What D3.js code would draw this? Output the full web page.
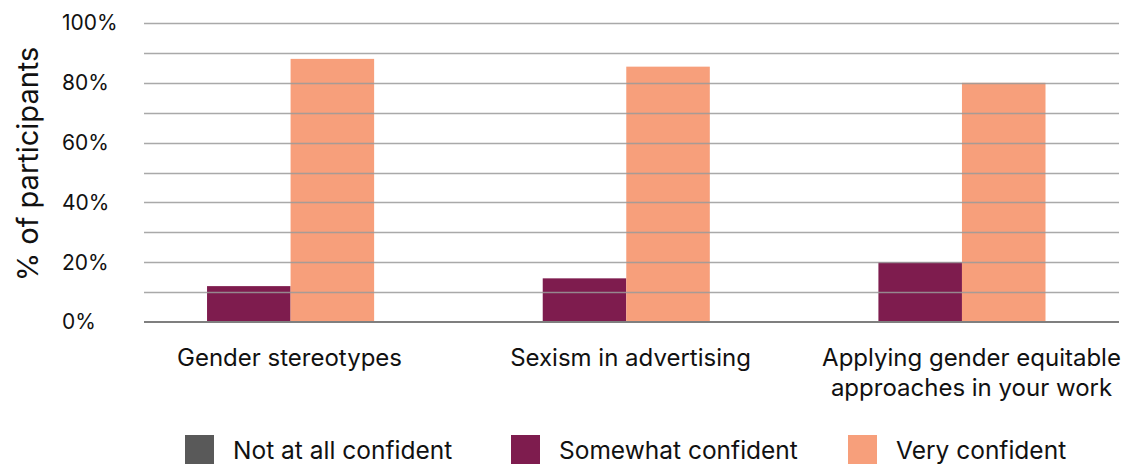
<!DOCTYPE html>
<html>
<head>
<meta charset="utf-8">
<script src="https://cdn.jsdelivr.net/npm/d3@7"></script>
<style>
  html, body { margin: 0; padding: 0; background: #fff; }
  svg { display: block; font-family: Inter, "Open Sans", sans-serif; }
</style>
</head>
<body>
<svg id="chart" width="1131" height="464"></svg>
<script>
// data
const categories = [
  ["Gender stereotypes"],
  ["Sexism in advertising"],
  ["Applying gender equitable", "approaches in your work"]
];
const series = ["Not at all confident", "Somewhat confident", "Very confident"];
const colors = ["#595959", "#7e1c4e", "#f79f7b"];
const notConfident = [0, 0, 0];
const somewhatConfident = [12, 14.6, 20];
const veryConfident = [88, 85.4, 80];
const yTicks = [0, 20, 40, 60, 80, 100];

const values = [notConfident, somewhatConfident, veryConfident];
const catKeys = categories.map(c => c.join(" "));

const svg = d3.select("#chart");
const plotL = 144, plotR = 1119, plotT = 23, plotB = 322;

const y = d3.scaleLinear().domain([0, 100]).range([plotB, plotT]);

// bar groups (three slots per category, the empty grey one sits left)
const x0 = d3.scaleBand()
  .domain(catKeys)
  .range([123.5, 1045.5])
  .paddingInner(0.2534)
  .paddingOuter(0);
const x1 = d3.scaleBand().domain(series).range([0, x0.bandwidth()]);

// label positions
const xl = d3.scalePoint().domain(catKeys).range([289.5, 971.5]);

const rows = [];
catKeys.forEach((c, i) => {
  series.forEach((s, j) => rows.push({ cat: c, s, v: values[j][i], color: colors[j] }));
});

svg.append("g")
  .selectAll("rect")
  .data(rows.filter(d => d.v > 0))
  .enter()
  .append("rect")
  .attr("x", d => x0(d.cat) + x1(d.s))
  .attr("width", x1.bandwidth())
  .attr("y", d => y(d.v))
  .attr("height", d => y(0) - y(d.v) + 1)
  .attr("fill", d => d.color);

// gridlines over the bars
svg.append("g")
  .selectAll("line")
  .data(d3.range(10, 101, 10))
  .enter()
  .append("line")
  .attr("x1", plotL)
  .attr("x2", plotR)
  .attr("y1", d => Math.round(y(d)) + 0.5)
  .attr("y2", d => Math.round(y(d)) + 0.5)
  .attr("stroke", "#9a9a9a")
  .attr("stroke-opacity", 0.85)
  .attr("stroke-width", 1.5);

// baseline
svg.append("line")
  .attr("x1", plotL)
  .attr("x2", plotR)
  .attr("y1", y(0))
  .attr("y2", y(0))
  .attr("stroke", "#7f7f7f")
  .attr("stroke-width", 2);

// y tick labels (left aligned)
svg.append("g")
  .selectAll("text")
  .data(yTicks)
  .enter()
  .append("text")
  .attr("x", 62)
  .attr("y", d => y(d))
  .attr("dy", "0.35em")
  .attr("font-size", 21)
  .attr("fill", "#111")
  .text(d => d + "%");

// y title
svg.append("text")
  .attr("transform", `translate(38, 164) rotate(-90)`)
  .attr("text-anchor", "middle")
  .attr("font-size", 29)
  .attr("fill", "#111")
  .text("% of participants");

// category labels
svg.append("g")
  .selectAll("text")
  .data(categories)
  .enter()
  .append("text")
  .attr("x", (d, i) => xl(catKeys[i]))
  .attr("y", 366)
  .attr("text-anchor", "middle")
  .attr("font-size", 24)
  .attr("fill", "#111")
  .each(function(d) {
    const t = d3.select(this);
    d.forEach((line, k) => {
      t.append("tspan")
        .attr("x", t.attr("x"))
        .attr("dy", k === 0 ? 0 : 30)
        .text(line);
    });
  });

// legend
const legendX = [185, 511, 848];
const legend = svg.append("g")
  .selectAll("g")
  .data(series)
  .enter()
  .append("g")
  .attr("transform", (d, i) => `translate(${legendX[i]}, 435)`);
legend.append("rect")
  .attr("width", 29)
  .attr("height", 30)
  .attr("fill", (d, i) => colors[i]);
legend.append("text")
  .attr("x", 48)
  .attr("y", 15)
  .attr("dy", "0.35em")
  .attr("font-size", 24.5)
  .attr("fill", "#111")
  .text(d => d);
</script>
</body>
</html>
